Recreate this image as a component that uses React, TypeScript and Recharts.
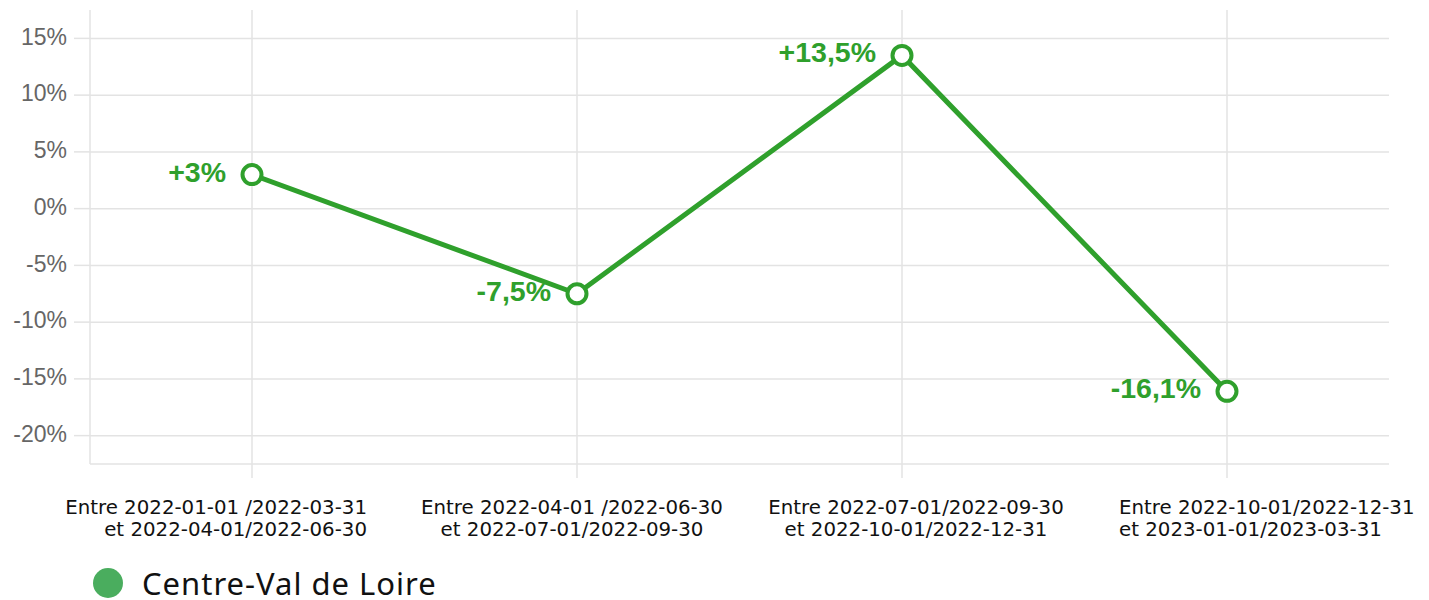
import { LineChart, Line, XAxis, YAxis, CartesianGrid, LabelList, Legend } from "recharts"

const periods = [
  ["Entre 2022-01-01 /2022-03-31", "et 2022-04-01/2022-06-30"],
  ["Entre 2022-04-01 /2022-06-30", "et 2022-07-01/2022-09-30"],
  ["Entre 2022-07-01/2022-09-30", "et 2022-10-01/2022-12-31"],
  ["Entre 2022-10-01/2022-12-31", "et 2023-01-01/2023-03-31"],
]
const variations = [3, -7.5, 13.5, -16.1]
const yTicks = [-20, -15, -10, -5, 0, 5, 10, 15]
const seriesName = "Centre-Val de Loire"

const LINE_COLOR = "#2fa02c"
const GRID_COLOR = "#e3e3e3"

// how each x label sits relative to its tick (like the original chart)
const tickAlign: Array<{ anchor: "start" | "middle" | "end"; dx: number }> = [
  { anchor: "end", dx: 115 },
  { anchor: "middle", dx: -5 },
  { anchor: "middle", dx: 14 },
  { anchor: "start", dx: -108 },
]

const data = periods.map((p, i) => ({ period: String(i), value: variations[i] }))

const fmtPct = (v: number) => {
  const s = String(v).replace(".", ",")
  return (v > 0 ? "+" : "") + s + "%"
}

const XTick = (props: any) => {
  const { x, y, payload } = props
  const i = Number(payload.value)
  const lines = periods[i]
  const a = tickAlign[i]
  return (
    <text
      x={x + a.dx}
      y={y}
      textAnchor={a.anchor}
      fill="#111"
      fontSize={19.8}
      fontFamily="DejaVu Sans"
    >
      <tspan x={x + a.dx} dy={34}>{lines[0]}</tspan>
      <tspan x={x + a.dx} dy={22}>{lines[1]}</tspan>
    </text>
  )
}

const ValueLabel = (props: any) => {
  const { x, y, value } = props
  return (
    <text
      x={x - 26}
      y={y - 3}
      textAnchor="end"
      dominantBaseline="central"
      fill={LINE_COLOR}
      fontSize={28.5}
      fontWeight="bold"
      fontFamily="Liberation Sans, Arial, sans-serif"
    >
      {fmtPct(value)}
    </text>
  )
}

const LegendContent = () => (
  <div
    style={{
      display: "flex",
      alignItems: "center",
      fontFamily: "Noto Sans",
      fontSize: 31,
      lineHeight: "30px",
      letterSpacing: 1,
      color: "#111",
    }}
  >
    <span
      style={{
        display: "inline-block",
        width: 30,
        height: 30,
        borderRadius: "50%",
        background: "#4aad5e",
        marginRight: 19,
      }}
    />
    {seriesName}
  </div>
)

export default function App() {
  return (
    <div style={{ position: "absolute", left: 0, top: 0, width: 1429, height: 600, background: "#fff" }}>
      <LineChart width={1429} height={600} data={data} margin={{ top: 10, right: 40, bottom: 0, left: 0 }}>
        <CartesianGrid stroke={GRID_COLOR} strokeWidth={1.5} syncWithTicks />
        <XAxis
          dataKey="period"
          padding={{ left: 162, right: 162 }}
          height={136}
          tickSize={14}
          tickLine={{ stroke: GRID_COLOR, strokeWidth: 1.5 }}
          axisLine={{ stroke: GRID_COLOR, strokeWidth: 1.5 }}
          tick={<XTick />}
          interval={0}
        />
        <YAxis
          width={90}
          domain={[-22.5, 17.5]}
          ticks={yTicks}
          tickSize={16}
          tickMargin={7}
          tickFormatter={(v: number) => `${v}%`}
          tick={{ fill: "#666", fontSize: 23, fontFamily: "Liberation Sans, Arial, sans-serif", dy: -2 }}
          tickLine={{ stroke: GRID_COLOR, strokeWidth: 1.5 }}
          axisLine={{ stroke: GRID_COLOR, strokeWidth: 1.5 }}
        />
        <Legend
          layout="horizontal"
          verticalAlign="middle"
          align="center"
          wrapperStyle={{ top: 568, left: 93, width: 600 }}
          content={<LegendContent />}
        />
        <Line
          type="linear"
          dataKey="value"
          name={seriesName}
          stroke={LINE_COLOR}
          strokeWidth={5}
          dot={{ r: 9.5, stroke: LINE_COLOR, strokeWidth: 4, fill: "#fff" }}
          activeDot={false}
          isAnimationActive={false}
        >
          <LabelList dataKey="value" content={<ValueLabel />} />
        </Line>
      </LineChart>
    </div>
  )
}
